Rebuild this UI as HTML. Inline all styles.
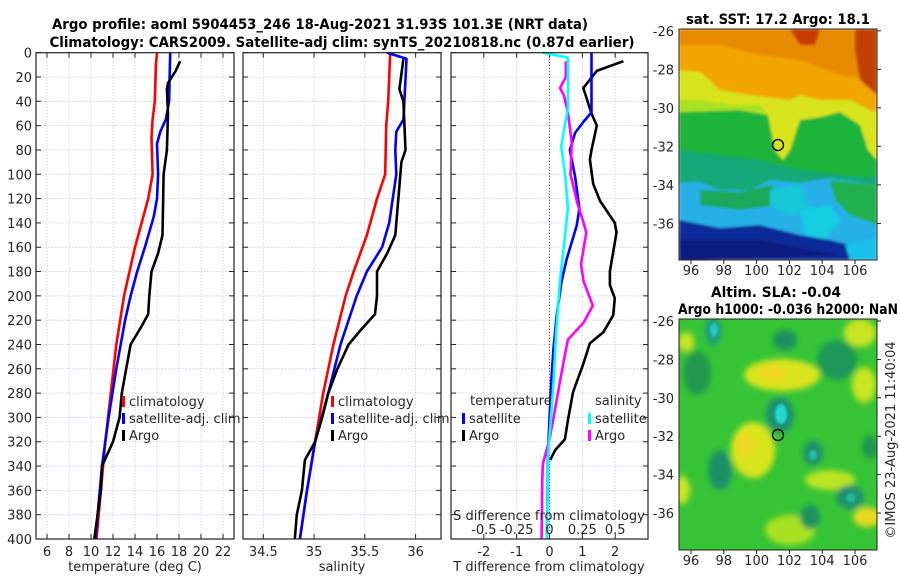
<!DOCTYPE html>
<html><head><meta charset="utf-8">
<style>
html,body{margin:0;padding:0;background:#fff;}
svg{display:block;font-family:"DejaVu Sans","Liberation Sans",sans-serif;}
.tk{font-size:13px;fill:#262626;}
.ttl{font-size:14px;font-weight:bold;fill:#000;font-family:"DejaVu Sans Condensed","DejaVu Sans","Liberation Sans",sans-serif;}
</style></head>
<body>
<svg id="fig" width="900" height="580" viewBox="0 0 900 580">
<defs>
<filter id="blur1" x="-20%" y="-20%" width="140%" height="140%"><feGaussianBlur stdDeviation="1.2"/></filter>
<filter id="blur2" x="-50%" y="-50%" width="200%" height="200%"><feGaussianBlur stdDeviation="3"/></filter>
<clipPath id="m1clip"><rect x="679" y="29" width="198" height="231"/></clipPath>
<clipPath id="m2clip"><rect x="679" y="319" width="198" height="231"/></clipPath>
</defs>
<text class="ttl" x="320" y="29" text-anchor="middle" textLength="536" lengthAdjust="spacingAndGlyphs">Argo profile: aoml 5904453_246 18-Aug-2021 31.93S 101.3E (NRT data)</text>
<text class="ttl" x="342" y="47" text-anchor="middle" textLength="585" lengthAdjust="spacingAndGlyphs">Climatology: CARS2009. Satellite-adj clim: synTS_20210818.nc (0.87d earlier)</text>
<g id="plots"></g>

<!-- SST map -->
<text class="ttl" x="778" y="24" text-anchor="middle" textLength="184" lengthAdjust="spacingAndGlyphs">sat. SST: 17.2 Argo: 18.1</text>
<g clip-path="url(#m1clip)">
 <g filter="url(#blur1)">
 <rect x="679" y="29" width="198" height="231" fill="#1fb43a"/>
 <polygon points="679,29 877,29 877,130 860,125 840,112 820,117 800,120 790,150 783,160 775,150 768,115 740,110 679,112" fill="#f2a400"/>
 <polygon points="679,29 877,29 877,80 840,75 800,60 760,55 720,45 679,45" fill="#e88a00"/>
 <polygon points="790,29 820,29 815,45 800,45" fill="#c83a00"/>
 <polygon points="855,29 877,29 877,95 860,80 855,50" fill="#c04000"/>
 <polygon points="679,70 700,72 720,90 750,95 790,100 800,95 820,100 850,100 870,110 877,112 877,160 868,150 860,125 840,112 820,117 800,120 790,150 783,160 775,150 768,115 740,110 679,112" fill="#d7e41c"/>
 <polygon points="679,100 700,100 730,105 760,105 768,115 740,110 679,112" fill="#a8e020"/>
 <polygon points="679,150 720,155 760,160 800,170 840,175 877,178 877,260 679,260" fill="#18a878"/>
 <polygon points="679,183 700,182 720,190 750,190 770,180 800,183 830,178 877,185 877,260 679,260" fill="#28b0e8"/>
 <polygon points="700,190 740,192 770,185 785,195 780,205 740,210 700,205" fill="#1aa85a"/>
 <polygon points="770,190 800,185 810,210 790,215 770,205" fill="#18c8d8"/>
 <polygon points="800,210 830,205 840,220 825,240 805,235" fill="#18cce0"/>
 <polygon points="830,180 877,185 877,225 850,215 835,200" fill="#20b050"/>
 <polygon points="679,220 720,228 760,225 800,235 830,240 850,245 877,248 877,260 679,260" fill="#0a2c9a"/>
 <polygon points="679,240 760,240 810,250 840,255 679,262" fill="#071a80"/>
 <polygon points="845,245 877,238 877,260 850,260" fill="#18c0e8"/>
 </g>
</g>
<rect x="679" y="29" width="198" height="231" fill="none" stroke="#222" stroke-width="1"/>
<circle cx="778" cy="145" r="5.5" fill="none" stroke="#000" stroke-width="1.3"/>

<!-- SLA map -->
<text class="ttl" x="776" y="297" text-anchor="middle" textLength="130" lengthAdjust="spacingAndGlyphs">Altim. SLA: -0.04</text>
<text class="ttl" x="788" y="314" text-anchor="middle" textLength="220" lengthAdjust="spacingAndGlyphs">Argo h1000: -0.036 h2000: NaN</text>
<g clip-path="url(#m2clip)">
 <rect x="679" y="319" width="198" height="231" fill="#36c436"/>
 <g filter="url(#blur2)">
 <ellipse cx="782" cy="375" rx="38" ry="16" fill="#d8e41e"/>
 <ellipse cx="772" cy="373" rx="14" ry="8" fill="#f0d820"/>
 <ellipse cx="860" cy="333" rx="16" ry="14" fill="#c8e420"/>
 <ellipse cx="864" cy="385" rx="12" ry="18" fill="#c8e420"/>
 <ellipse cx="686" cy="342" rx="8" ry="10" fill="#c8e420"/>
 <ellipse cx="753" cy="450" rx="22" ry="28" fill="#d8e41e"/>
 <ellipse cx="745" cy="445" rx="10" ry="12" fill="#f0d820"/>
 <ellipse cx="830" cy="480" rx="25" ry="10" fill="#b8e420"/>
 <ellipse cx="867" cy="517" rx="14" ry="10" fill="#e8d820"/>
 <ellipse cx="682" cy="490" rx="8" ry="14" fill="#c8e420"/>
 <ellipse cx="790" cy="530" rx="25" ry="15" fill="#a8e020"/>
 <ellipse cx="713" cy="331" rx="8" ry="14" fill="#1a9a80"/>
 <ellipse cx="785" cy="340" rx="12" ry="10" fill="#1a9060"/>
 <ellipse cx="837" cy="360" rx="20" ry="20" fill="#1e9858"/>
 <ellipse cx="697" cy="373" rx="14" ry="22" fill="#229850"/>
 <ellipse cx="780" cy="415" rx="14" ry="18" fill="#1a9070"/>
 <ellipse cx="720" cy="470" rx="12" ry="20" fill="#1a9068"/>
 <ellipse cx="813" cy="453" rx="10" ry="12" fill="#1a9070"/>
 <ellipse cx="870" cy="447" rx="8" ry="12" fill="#1e9850"/>
 <ellipse cx="850" cy="497" rx="14" ry="12" fill="#1a9070"/>
 <ellipse cx="810" cy="517" rx="10" ry="12" fill="#1a9060"/>
 </g>
 <ellipse cx="781" cy="414" rx="6" ry="10" fill="#20d8d0" filter="url(#blur1)"/>
 <ellipse cx="714" cy="330" rx="4" ry="7" fill="#20c8c8" filter="url(#blur1)"/>
 <ellipse cx="813" cy="455" rx="4" ry="5" fill="#20c0a8" filter="url(#blur1)"/>
 <ellipse cx="851" cy="498" rx="5" ry="5" fill="#20b898" filter="url(#blur1)"/>
</g>
<rect x="679" y="319" width="198" height="231" fill="none" stroke="#222" stroke-width="1"/>
<circle cx="778" cy="435" r="5.5" fill="none" stroke="#000" stroke-width="1.3"/>
<text class="tk" transform="translate(895,440) rotate(-90)" text-anchor="middle">©IMOS 23-Aug-2021 11:40:04</text>
<g id="maps-axes"></g>
</svg>
<script>
// ---- data (depth in m, values) ----
const tClimDepth = [0,10,40,55,70,100,120,140,160,200,240,280,320,360,400];
const tClimVal   = [16.0,15.9,15.8,15.6,15.5,15.6,15.2,14.6,14.0,13.0,12.3,11.8,11.3,10.9,10.5];
const tSatDepth  = [0,40,55,65,75,100,120,135,160,180,200,220,260,300,340,400];
const tSatVal    = [17.2,17.1,16.8,16.3,16.0,16.1,16.0,15.7,14.9,14.2,13.6,13.1,12.3,11.6,11.0,10.4];
const tArgoDepth = [7,15,25,30,50,80,100,150,165,180,200,215,225,240,260,280,300,320,340,360,400];
const tArgoVal   = [18.1,17.7,17.0,16.9,17.0,16.9,16.6,16.5,16.1,15.5,15.3,15.2,14.6,13.6,13.2,12.8,12.6,12.0,11.0,10.9,10.3];

const sClimDepth = [0,40,60,100,120,150,180,200,240,280,320,360,400];
const sClimVal   = [35.75,35.73,35.71,35.70,35.62,35.52,35.39,35.31,35.19,35.09,35.01,34.93,34.86];
const sSatDepth  = [0,5,40,55,65,80,100,140,160,180,200,240,280,320,360,400];
const sSatVal    = [35.72,35.91,35.89,35.88,35.81,35.80,35.81,35.74,35.67,35.52,35.42,35.26,35.14,35.01,34.93,34.86];
const sArgoDepth = [5,30,40,80,90,150,165,180,200,215,230,240,260,280,300,320,335,360,380,400];
const sArgoVal   = [35.88,35.84,35.88,35.90,35.86,35.80,35.72,35.62,35.62,35.60,35.44,35.34,35.23,35.14,35.08,35.01,34.91,34.88,34.83,34.81];

const dTSatDepth  = [0,49,57,66,80,102,128,142,170,188,216,244,273,330,400];
const dTSatVal    = [1.28,1.28,1.03,0.78,0.62,0.78,0.91,0.83,0.52,0.37,0.22,0.12,0.05,-0.05,-0.08];
const dTArgoDepth = [7,15,29,50,60,80,88,108,122,140,148,180,191,202,216,230,239,256,279,301,318,327,335];
const dTArgoVal   = [2.25,1.44,1.03,1.28,1.44,1.28,1.23,1.33,1.54,1.99,2.04,1.84,1.84,1.99,1.94,1.64,1.23,1.03,0.72,0.57,0.47,0.17,0.02];
const dSSatDepth  = [0,4,47,57,77,102,128,159,187,230,273,330,400];
const dSSatVal    = [-0.05,0.14,0.14,0.12,0.09,0.12,0.14,0.11,0.08,0.05,0.03,-0.01,-0.02];
const dSArgoDepth = [7,20,29,35,49,74,100,123,140,148,174,188,208,222,236,253,273,301,318,338,350,400];
const dSArgoVal   = [0.125,0.125,0.08,0.11,0.14,0.17,0.16,0.21,0.26,0.28,0.24,0.26,0.33,0.26,0.14,0.11,0.075,0.03,0.0,-0.05,-0.055,-0.06];

const depthTicks = [0,20,40,60,80,100,120,140,160,180,200,220,240,260,280,300,320,340,360,380,400];
const tempTicks = [6,8,10,12,14,16,18,20,22];
const salTicks = [34.5,35,35.5,36];
const salTickLabels = ["34.5","35","35.5","36"];
const dTTicks = [-2,-1,0,1,2];
const dSTicks = [-0.5,-0.25,0,0.25,0.5];
const dSTickLabels = ["-0.5","-0.25","0","0.25","0.5"];
const lonTicks = [96,98,100,102,104,106];
const latTicks = [-26,-28,-30,-32,-34,-36];

const NS = "http://www.w3.org/2000/svg";
const TOP = 52.7, BOT = 539;
const yD = d => TOP + d/400*(BOT-TOP);
function mk(tag, attrs, parent){ const e=document.createElementNS(NS,tag); for(const k in attrs) e.setAttribute(k,attrs[k]); parent.appendChild(e); return e; }
const root = document.getElementById('plots');

function panel(name, x0, x1, xmin, xmax){
  const xs = v => x0 + (v-xmin)/(xmax-xmin)*(x1-x0);
  const g = mk('g',{},root);
  
  
  return {g, xs, x0, x1};
}
function grid(p, xt){
  depthTicks.forEach(d=>{
    const l = mk('line',{x1:p.x0,x2:p.x1,y1:yD(d),y2:yD(d),stroke:'#c4c8e4','stroke-width':0.8,'stroke-dasharray':'1.5,1.5'},p.g);
    
    
    mk('line',{x1:p.x0,x2:p.x0+5,y1:yD(d),y2:yD(d),stroke:'#222','stroke-width':1},p.g);
    mk('line',{x1:p.x1-5,x2:p.x1,y1:yD(d),y2:yD(d),stroke:'#222','stroke-width':1},p.g);
  });
  xt.forEach(v=>{
    const x=p.xs(v);
    const l = mk('line',{x1:x,x2:x,y1:TOP,y2:BOT,stroke:'#c4c8e4','stroke-width':0.8,'stroke-dasharray':'1.5,1.5'},p.g);
    
    
    mk('line',{x1:x,x2:x,y1:TOP,y2:TOP+5,stroke:'#222','stroke-width':1},p.g);
    mk('line',{x1:x,x2:x,y1:BOT-5,y2:BOT,stroke:'#222','stroke-width':1},p.g);
  });
}
function frame(p){
  const r = mk('rect',{x:p.x0,y:TOP,width:p.x1-p.x0,height:BOT-TOP,fill:'none',stroke:'#222','stroke-width':1.2},p.g);
  
  
}
function line(p, xsFn, depths, vals, color, name){
  const d = depths.map((dd,i)=>(i?'L':'M')+xsFn(vals[i]).toFixed(1)+','+yD(dd).toFixed(1)).join(' ');
  const e = mk('path',{d, fill:'none', stroke:color,'stroke-width':2.6,'stroke-linejoin':'round'},p.g);
  
  
}
function txt(p, x, y, s, anchor, name){
  const t = mk('text',{x,y,'text-anchor':anchor||'middle',class:'tk'},p.g);
  t.textContent = s;
  
  
  return t;
}
function legend(p, x, y, color, label, name){
  const m = mk('rect',{x:x,y:y-9,width:3,height:11,fill:color},p.g);
  
  
  txt(p, x+7, y+1, label, 'start', name);
}

// Panel 1: temperature
const p1 = panel('temperature-panel', 36, 234, 5, 23);
grid(p1, tempTicks);
depthTicks.forEach(d=>txt(p1, 32, yD(d)+5, String(d), 'end', 'depth-tick-label'));
tempTicks.forEach(v=>txt(p1, p1.xs(v), 556, String(v), 'middle', 'temp-tick-label'));
txt(p1, 135, 571, 'temperature (deg C)', 'middle', 'temp-x-axis-title');
line(p1, p1.xs, tClimDepth, tClimVal, '#ff0000', 'temp-climatology-line');
line(p1, p1.xs, tSatDepth, tSatVal, '#0000ff', 'temp-satellite-line');
line(p1, p1.xs, tArgoDepth, tArgoVal, '#000000', 'temp-argo-line');
legend(p1, 122, 405, '#ff0000', 'climatology', 'legend-climatology');
legend(p1, 122, 422, '#0000ff', 'satellite-adj. clim', 'legend-satellite');
legend(p1, 122, 439, '#000000', 'Argo', 'legend-argo');
frame(p1);

// Panel 2: salinity
const p2 = panel('salinity-panel', 243, 441, 34.3, 36.25);
grid(p2, salTicks);
salTicks.forEach((v,i)=>txt(p2, p2.xs(v), 556, salTickLabels[i], 'middle', 'sal-tick-label'));
txt(p2, 342, 571, 'salinity', 'middle', 'sal-x-axis-title');
line(p2, p2.xs, sClimDepth, sClimVal, '#ff0000', 'sal-climatology-line');
line(p2, p2.xs, sSatDepth, sSatVal, '#0000ff', 'sal-satellite-line');
line(p2, p2.xs, sArgoDepth, sArgoVal, '#000000', 'sal-argo-line');
legend(p2, 331, 405, '#ff0000', 'climatology', 'legend-sal-climatology');
legend(p2, 331, 422, '#0000ff', 'satellite-adj. clim', 'legend-sal-satellite');
legend(p2, 331, 439, '#000000', 'Argo', 'legend-sal-argo');
frame(p2);

// Panel 3: differences
const p3 = panel('difference-panel', 451, 648, -3, 3);
const xsS = v => p3.xs(v*4);
grid(p3, dTTicks);
{ const z = mk('line',{x1:p3.xs(0),x2:p3.xs(0),y1:TOP,y2:BOT,stroke:'#333','stroke-width':1,'stroke-dasharray':'1,2'},p3.g);
    }
dTTicks.forEach(v=>txt(p3, p3.xs(v), 556, String(v), 'middle', 't-diff-tick-label'));
txt(p3, 549, 571, 'T difference from climatology', 'middle', 't-diff-x-axis-title');
line(p3, p3.xs, dTArgoDepth, dTArgoVal, '#000000', 't-diff-argo-line');
line(p3, p3.xs, dTSatDepth, dTSatVal, '#0000ff', 't-diff-satellite-line');
line(p3, xsS, dSArgoDepth, dSArgoVal, '#ff00ff', 's-diff-argo-line');
line(p3, xsS, dSSatDepth, dSSatVal, '#00ffff', 's-diff-satellite-line');
txt(p3, 549, 520, 'S difference from climatology', 'middle', 's-diff-axis-title');
dSTicks.forEach((v,i)=>txt(p3, xsS(v), 534, dSTickLabels[i], 'middle', 's-diff-tick-label'));
txt(p3, 470, 405, 'temperature', 'start', 'legend-temperature-heading');
legend(p3, 462, 422, '#0000ff', 'satellite', 'legend-t-satellite');
legend(p3, 462, 439, '#000000', 'Argo', 'legend-t-argo');
txt(p3, 595, 405, 'salinity', 'start', 'legend-salinity-heading');
legend(p3, 588, 422, '#00ffff', 'satellite', 'legend-s-satellite');
legend(p3, 588, 439, '#ff00ff', 'Argo', 'legend-s-argo');
frame(p3);

// Map axes
const ma = document.getElementById('maps-axes');
const lonX = lon => 691 + (lon-96)*16.4;
function mapAxes(top, lat0y, pxPerDeg, labelY, bottom){
  lonTicks.forEach(lon=>{
    const t = mk('text',{x:lonX(lon),y:labelY,'text-anchor':'middle',class:'tk'},ma);
    t.textContent = String(lon);
    
    
    mk('line',{x1:lonX(lon),x2:lonX(lon),y1:bottom,y2:bottom+4,stroke:'#222'},ma);
  });
  latTicks.forEach(lat=>{
    const y = lat0y + (-26-lat)*pxPerDeg;
    const t = mk('text',{x:674,y:y+5,'text-anchor':'end',class:'tk'},ma);
    t.textContent = String(lat);
    
    
    mk('line',{x1:877,x2:881,y1:y,y2:y,stroke:'#222'},ma);
  });
}
mapAxes(29, 30.8, 19.26, 275, 260);
mapAxes(319, 321, 19.2, 565, 550);
</script>
</body></html>
